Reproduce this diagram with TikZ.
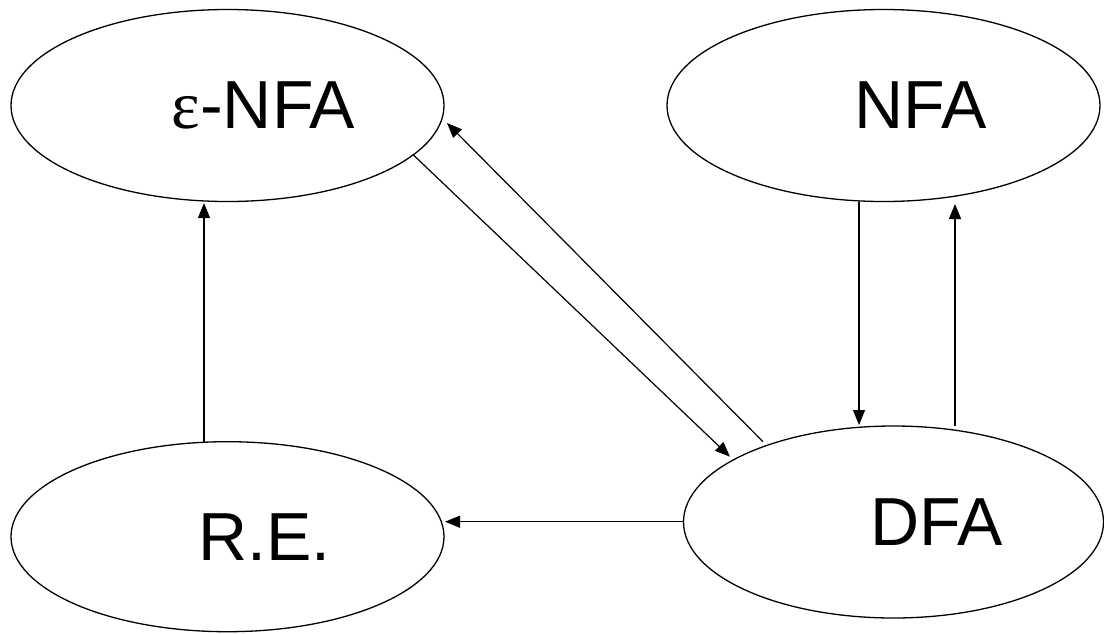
\documentclass[tikz,border=0pt]{standalone}
\usepackage{fontspec}
\setmainfont{Liberation Sans}
\newfontfamily\epsfont{Liberation Serif}
\usetikzlibrary{shapes.geometric,arrows.meta}
\tikzset{
  state/.style={draw, ellipse, line width=1.3pt, inner sep=0pt, font=\fontsize{68pt}{70pt}\selectfont},
  conn/.style={line width=1.2pt, -{Triangle[length=15pt,width=12pt]}}
}
\begin{document}
\begin{tikzpicture}[x=1pt,y=-1pt]
\useasboundingbox (0,0) rectangle (1104,633);
\node[state, minimum width=433pt, minimum height=192pt] (enfa) at (227.5,105.5) {\hspace*{72pt}{\epsfont ε}-NFA};
\node[state, minimum width=433pt, minimum height=192pt] (nfa) at (883.5,105.5) {\hspace*{74pt}NFA};
\node[state, minimum width=433pt, minimum height=190pt] (re) at (227.5,536.7) {\hspace*{74pt}R.E.};
\node[state, minimum width=420pt, minimum height=192pt] (dfa) at (893.5,522) {\hspace*{86pt}DFA};
% R.E. -> eps-NFA
\draw[conn] ([shift={(-23.5,-95)}]re.center) -- ([shift={(-23.5,97.5)}]enfa.center);
% eps-NFA -> DFA
\draw[conn] ([shift={(185.2,48.8)}]enfa.center) -- ([shift={(-163.5,-65.3)}]dfa.center);
% DFA -> eps-NFA
\draw[conn] ([shift={(-130.5,-80.3)}]dfa.center) -- ([shift={(219.5,17.5)}]enfa.center);
% NFA -> DFA
\draw[conn] ([shift={(-24.5,96.2)}]nfa.center) -- ([shift={(-34.5,-97)}]dfa.center);
% DFA -> NFA
\draw[conn] ([shift={(61.5,-96)}]dfa.center) -- ([shift={(71.5,98.5)}]nfa.center);
% DFA -> R.E.
\draw[conn] ([shift={(-210.2,-0.3)}]dfa.center) -- ([shift={(217.5,-15)}]re.center);
\end{tikzpicture}
\end{document}
